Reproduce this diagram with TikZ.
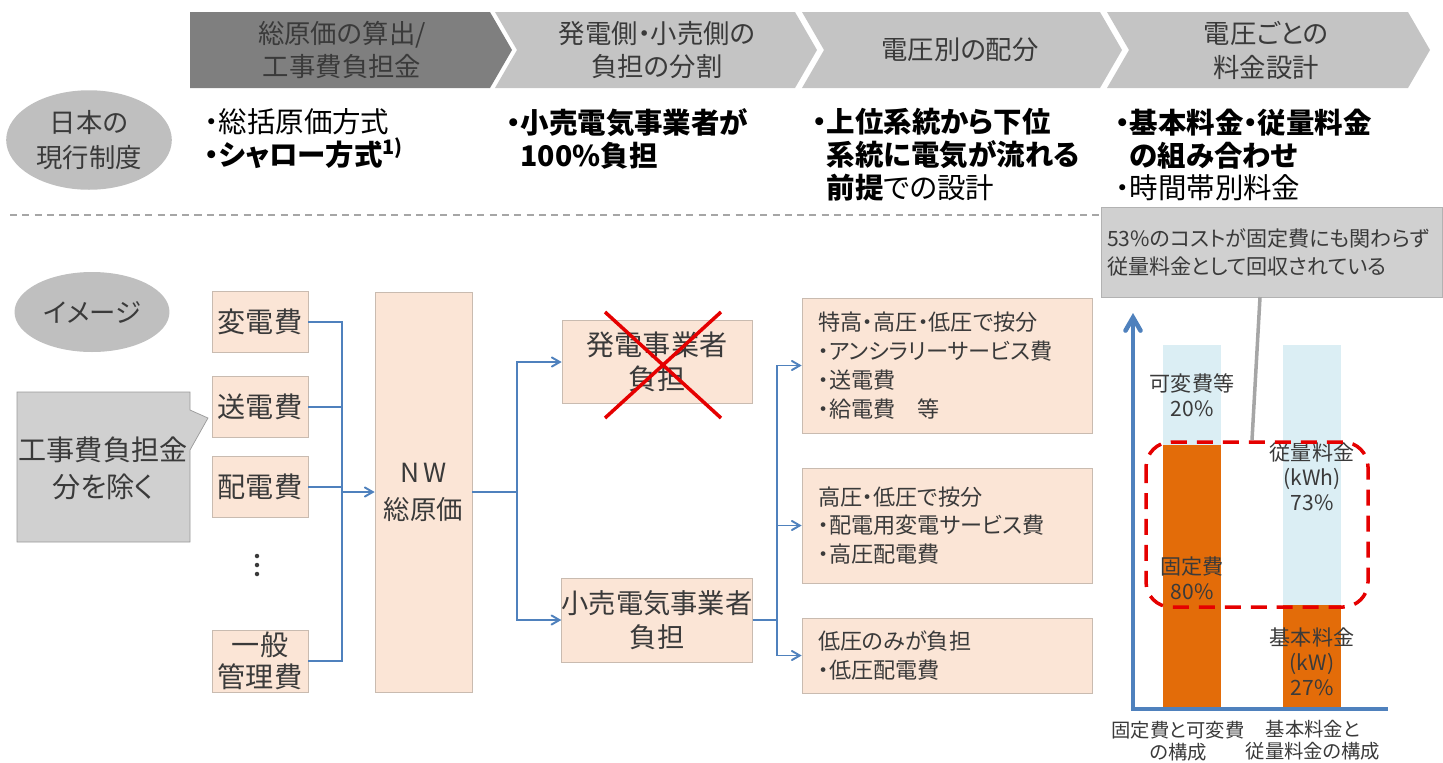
\documentclass[tikz,border=0pt]{standalone}
\usepackage{fontspec}
\setmainfont{Noto Sans CJK JP}[RawFeature=+palt]
\usepackage{pgf, tikz}
\usetikzlibrary{shapes}
\usetikzlibrary{shapes.geometric}
\usetikzlibrary{arrows}

\definecolor{hdrdark}{HTML}{7F7F7F}
\definecolor{hdrlight}{HTML}{C4C4C4}
\definecolor{ovalgray}{HTML}{BFBFBF}
\definecolor{notegray}{HTML}{D0D0D0}
\definecolor{peach}{HTML}{FBE5D6}
\definecolor{peachline}{HTML}{C9BBB0}
\definecolor{flowblue}{HTML}{4F81BD}
\definecolor{barblue}{HTML}{DBEEF4}
\definecolor{barorange}{HTML}{E36C09}
\definecolor{txt}{HTML}{3A3A3A}

\newcommand{\ind}{\hphantom{\textbf{・}}}

\tikzset{
  costbox/.style={draw=peachline, fill=peach, rectangle, inner sep=0pt,
    text=txt, align=center, font=\fontsize{16}{20}\selectfont},
  itembox/.style={draw=peachline, fill=peach, rectangle, inner xsep=0.32cm,
    text width=5.16cm, minimum width=5.8cm, align=left, text=txt,
    font=\fontsize{12.6}{16.4}\selectfont},
  oval/.style={ellipse, fill=ovalgray, text=txt, align=center,
    font=\fontsize{15}{19.5}\selectfont},
  hdrtext/.style={text=txt, align=center, font=\fontsize{15}{19.3}\selectfont},
  bullets/.style={anchor=west, align=left, text=black, inner sep=0pt,
    font=\fontsize{16.2}{18.7}\selectfont},
  barlabel/.style={text=txt, align=center, font=\fontsize{12}{14.2}\selectfont},
  flow/.style={draw=flowblue, line width=1.1pt},
  flowarrow/.style={flow, ->, >=angle 60}
}

\begin{document}
\begin{tikzpicture}[x=0.02cm, y=-0.02cm]
\useasboundingbox (0,0) rectangle (1443,762);

% header steps
\fill[hdrdark] (190,12) -- (490,12) -- (512,50) -- (490,88) -- (190,88) -- cycle;
\fill[hdrlight] (495,12) -- (795,12) -- (817,50) -- (795,88) -- (495,88) -- (517,50) -- cycle;
\fill[hdrlight] (802,12) -- (1100,12) -- (1122,50) -- (1100,88) -- (802,88) -- (824,50) -- cycle;
\fill[hdrlight] (1107,12) -- (1408,12) -- (1430,50) -- (1408,88) -- (1107,88) -- (1129,50) -- cycle;
\node[hdrtext] (step1) at (342,50) {総原価の算出/\\工事費負担金};
\node[hdrtext] (step2) at (657,50) {発電側・小売側の\\負担の分割};
\node[hdrtext] (step3) at (960,50) {電圧別の配分};
\node[hdrtext] (step4) at (1266,50) {電圧ごとの\\料金設計};

% current system
\node[oval, minimum width=3cm, minimum height=1.6cm] (japan) at (89,140)
  {日本の\\現行制度};
\node[bullets] (cur1) at (204,139)
  {・総括原価方式\\\textbf{・シャロー方式}\textsuperscript{\textbf{1)}}};
\node[bullets] (cur2) at (506,139)
  {\textbf{・小売電気事業者が}\\\ind\textbf{100\%負担}};
\node[bullets] (cur3) at (812,155)
  {\textbf{・上位系統から下位}\\\ind\textbf{系統に電気が流れる}\\\ind\textbf{前提}での設計};
\node[bullets] (cur4) at (1115,155)
  {\textbf{・基本料金・従量料金}\\\ind\textbf{の組み合わせ}\\・時間帯別料金};

\draw[gray!70, line width=1pt, dash pattern=on 4pt off 3pt] (10,215) -- (1440,215);

% image
\node[oval, minimum width=3.1cm, minimum height=1.6cm] (image) at (92,312) {イメージ};

\fill[notegray, draw=gray!80] (17,392) -- (190,392) -- (190,410) -- (208,418)
  -- (190,450) -- (190,542) -- (17,542) -- cycle;
\node[text=txt, align=center, font=\fontsize{16}{21}\selectfont] (excl) at (103,468)
  {工事費負担金\\分を除く};

\node[costbox, minimum width=1.92cm, minimum height=1.22cm] (hen) at (260,322) {変電費};
\node[costbox, minimum width=1.92cm, minimum height=1.22cm] (sou) at (260,407) {送電費};
\node[costbox, minimum width=1.92cm, minimum height=1.22cm] (hai) at (260,487) {配電費};
\foreach \dy in {556,565,574}
  \fill[txt] (257,\dy) circle (0.045cm);
\node[costbox, minimum width=1.92cm, minimum height=1.24cm,
  font=\fontsize{16}{18.5}\selectfont] (ippan) at (260,661) {一般\\管理費};

\node[costbox, minimum width=1.94cm, minimum height=8cm,
  font=\fontsize{15}{21}\selectfont] (nw) at (423.5,492) {N\,W\\総原価};

\node[costbox, minimum width=3.8cm, minimum height=1.66cm,
  font=\fontsize{16}{19}\selectfont] (hatsu) at (657,362) {発電事業者\\負担};
\node[costbox, minimum width=3.8cm, minimum height=1.68cm,
  font=\fontsize{15.5}{19.5}\selectfont] (kouri) at (657,620) {小売電気事業者\\負担};

\node[itembox, minimum height=2.7cm] (volt3) at (947,365.5)
  {特高・高圧・低圧で按分\\・アンシラリーサービス費\\・送電費\\・給電費　等};
\node[itembox, minimum height=2.3cm] (volt2) at (947,525.5)
  {高圧・低圧で按分\\・配電用変電サービス費\\・高圧配電費};
\node[itembox, minimum height=1.5cm] (volt1) at (947,655.5)
  {低圧のみが負担\\・低圧配電費};

% connectors
\coordinate (join) at (342,492);
\draw[flow] (hen.east) -| (join);
\draw[flow] (sou.east) -| (join);
\draw[flow] (hai.east) -| (join);
\draw[flow] (ippan.east) -| (join);
\draw[flowarrow] (join) -- (nw.west);

\coordinate (fork) at (517,492);
\draw[flow] (nw.east) -- (fork);
\draw[flowarrow] (fork) |- (hatsu.west);
\draw[flowarrow] (fork) |- (kouri.west);

\coordinate (fork2) at (777,620);
\draw[flow] (kouri.east) -- (fork2);
\draw[flowarrow] (fork2) |- (volt3.west);
\draw[flowarrow] (fork2) |- (volt2.west);
\draw[flowarrow] (fork2) |- (volt1.west);

\draw[red!90!black, line width=2pt] (605,312) -- (721,418);
\draw[red!90!black, line width=2pt] (721,312) -- (605,418);

% chart
\fill[barblue] (1163,345) rectangle (1221,445);
\fill[barorange] (1163,445) rectangle (1221,707);
\fill[barblue] (1283,345) rectangle (1341,605);
\fill[barorange] (1283,605) rectangle (1341,707);
\draw[flowblue, line width=2.6pt, ->, >=angle 60] (1133,709) -- (1133,313);
\draw[flowblue, line width=2.8pt] (1131,709) -- (1388,709);

\node[barlabel] (var) at (1192,395) {可変費等\\20\%};
\node[barlabel] (fix) at (1192,578) {固定費\\80\%};
\node[barlabel] (energy) at (1312,477) {従量料金\\(kWh)\\73\%};
\node[barlabel] (demand) at (1312,662) {基本料金\\(kW)\\27\%};
\node[text=txt, align=center, inner sep=0pt, font=\fontsize{11}{12.2}\selectfont] (axis1) at (1178,741)
  {固定費と可変費\\の構成};
\node[text=txt, align=center, inner sep=0pt, font=\fontsize{11}{12.2}\selectfont] (axis2) at (1313,740)
  {基本料金と\\従量料金の構成};

\draw[red!90!black, line width=2pt, dash pattern=on 0.32cm off 0.2cm,
  rounded corners=0.5cm] (1146,442) rectangle (1368,607);

\node[fill=notegray, draw=gray!60, minimum width=6.8cm, minimum height=1.8cm,
  text width=6.6cm, align=left, text=txt,
  font=\fontsize{12}{15.9}\selectfont] (note) at (1272,252)
  {53\%のコストが固定費にも関わらず\\従量料金として回収されている};
\draw[gray!70, line width=2pt] (1260,297) -- (1252,440);
\end{tikzpicture}
\end{document}
